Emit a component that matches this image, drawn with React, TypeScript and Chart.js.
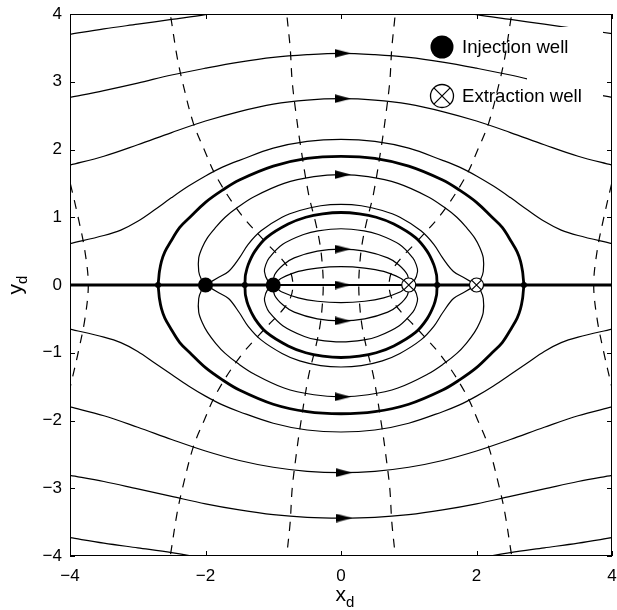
import React, { useEffect, useRef } from 'react';
import { Chart, registerables } from 'chart.js';

Chart.register(...registerables);

type P = [number, number];

// ---------- axes / text ----------
const xTickValues = [-4, -2, 0, 2, 4];
const yTickValues = [-4, -3, -2, -1, 0, 1, 2, 3, 4];
const legendLabels = ['Injection well', 'Extraction well'];
const xTitle = ['x', 'd'];
const yTitle = ['y', 'd'];

// ---------- wells and stagnation points ----------
const injectionWells: P[] = [[-2, 0], [-1, 0]];
const extractionWells: P[] = [[1, 0], [2, 0]];
const stagnationPoints: P[] = [[-2.7, 0], [-1.42, 0], [1.42, 0], [2.7, 0]];
const arrowPoints: P[] = [[0.03, 3.42], [0.03, 2.75], [0.03, 1.63], [0.03, 0.53], [0.03, 0], [0.03, -0.53], [0.03, -1.65], [0.05, -2.77], [0.05, -3.44]];

// ---------- streamlines (thin) ----------
const streamTopLeft: P[] = [[-4, 3.7], [-3.5, 3.78], [-3, 3.85], [-2.5, 3.92], [-2, 3.99], [-1.8, 4.03]];
const streamTopRight: P[] = [[1.8, 4.03], [2, 3.99], [2.5, 3.92], [3, 3.85], [3.5, 3.78], [4, 3.71]];
const streamBottomLeft: P[] = [[-4, -3.73], [-3.5, -3.81], [-3, -3.88], [-2.5, -3.95], [-2.2, -4.0], [-2.0, -4.04]];
const streamBottomRight: P[] = [[2.0, -4.04], [2.2, -4.0], [2.5, -3.95], [3, -3.88], [3.5, -3.81], [4, -3.73]];

const stream2Upper: P[] = [[-4, 2.77], [-3.5, 2.87], [-3, 2.98], [-2.5, 3.1], [-2, 3.2], [-1.5, 3.29], [-1, 3.36], [-0.5, 3.4], [0, 3.42], [0.5, 3.4], [1, 3.36], [1.5, 3.29], [2, 3.2], [2.5, 3.1], [3, 2.98], [3.5, 2.87], [4, 2.77]];
const stream2Lower: P[] = [[-4, -2.81], [-3.5, -2.9], [-3, -3.01], [-2.5, -3.12], [-2, -3.23], [-1.5, -3.32], [-1, -3.39], [-0.5, -3.43], [0, -3.44], [0.5, -3.43], [1, -3.39], [1.5, -3.32], [2, -3.23], [2.5, -3.12], [3, -3.01], [3.5, -2.9], [4, -2.81]];

const stream3Upper: P[] = [[-4, 1.77], [-3.5, 1.9], [-3, 2.07], [-2.5, 2.25], [-2, 2.42], [-1.5, 2.56], [-1, 2.67], [-0.5, 2.73], [0, 2.75], [0.5, 2.73], [1, 2.67], [1.5, 2.56], [2, 2.42], [2.5, 2.25], [3, 2.07], [3.5, 1.9], [4, 1.77]];
const stream3Lower: P[] = [[-4, -1.8], [-3.5, -1.93], [-3, -2.1], [-2.5, -2.28], [-2, -2.45], [-1.5, -2.59], [-1, -2.69], [-0.5, -2.75], [0, -2.77], [0.5, -2.75], [1, -2.69], [1.5, -2.59], [2, -2.45], [2.5, -2.28], [3, -2.1], [3.5, -1.93], [4, -1.8]];

const stream4Upper: P[] = [[-4, 0.61], [-3.5, 0.73], [-3.25, 0.81], [-3, 0.94], [-2.75, 1.11], [-2.5, 1.29], [-2.25, 1.46], [-2, 1.61], [-1.75, 1.74], [-1.5, 1.84], [-1, 2.02], [-0.5, 2.12], [0, 2.15], [0.5, 2.12], [1, 2.02], [1.5, 1.84], [1.75, 1.74], [2, 1.61], [2.25, 1.46], [2.5, 1.29], [2.75, 1.11], [3, 0.94], [3.25, 0.81], [3.5, 0.73], [4, 0.61]];
const stream4Lower: P[] = [[-4, -0.65], [-3.5, -0.77], [-3.25, -0.85], [-3, -0.98], [-2.75, -1.15], [-2.5, -1.32], [-2.25, -1.49], [-2, -1.64], [-1.75, -1.77], [-1.5, -1.87], [-1, -2.04], [-0.5, -2.14], [0, -2.17], [0.5, -2.14], [1, -2.04], [1.5, -1.87], [1.75, -1.77], [2, -1.64], [2.25, -1.49], [2.5, -1.32], [2.75, -1.15], [3, -0.98], [3.25, -0.85], [3.5, -0.77], [4, -0.65]];

const stream5Upper: P[] = [[-2, 0], [-2.06, 0.08], [-2.1, 0.2], [-2.1, 0.4], [-2.05, 0.55], [-1.97, 0.7], [-1.85, 0.85], [-1.71, 1.0], [-1.52, 1.15], [-1.29, 1.3], [-0.84, 1.5], [-0.4, 1.6], [0, 1.63], [0.4, 1.6], [0.84, 1.5], [1.29, 1.3], [1.52, 1.15], [1.71, 1.0], [1.85, 0.85], [1.97, 0.7], [2.05, 0.55], [2.1, 0.4], [2.1, 0.2], [2.06, 0.08], [2, 0]];
const stream5Lower: P[] = [[-2, 0], [-2.06, -0.08], [-2.1, -0.2], [-2.1, -0.4], [-2.05, -0.55], [-1.97, -0.7], [-1.85, -0.86], [-1.71, -1.01], [-1.52, -1.16], [-1.29, -1.31], [-0.84, -1.52], [-0.4, -1.62], [0, -1.65], [0.4, -1.62], [0.84, -1.52], [1.29, -1.31], [1.52, -1.16], [1.71, -1.01], [1.85, -0.86], [1.97, -0.7], [2.05, -0.55], [2.1, -0.4], [2.1, -0.2], [2.06, -0.08], [2, 0]];

const stream6Upper: P[] = [[-2, 0], [-1.83, 0.1], [-1.66, 0.2], [-1.5, 0.4], [-1.37, 0.6], [-1.18, 0.8], [-0.87, 1.0], [-0.61, 1.1], [-0.3, 1.17], [0, 1.19], [0.3, 1.17], [0.61, 1.1], [0.87, 1.0], [1.18, 0.8], [1.37, 0.6], [1.5, 0.4], [1.66, 0.2], [1.83, 0.1], [2, 0]];
const stream6Lower: P[] = [[-2, 0], [-1.83, -0.1], [-1.66, -0.2], [-1.5, -0.41], [-1.37, -0.61], [-1.18, -0.81], [-0.87, -1.01], [-0.61, -1.12], [-0.3, -1.19], [0, -1.21], [0.3, -1.19], [0.61, -1.12], [0.87, -1.01], [1.18, -0.81], [1.37, -0.61], [1.5, -0.41], [1.66, -0.2], [1.83, -0.1], [2, 0]];

const inner1Upper: P[] = [[-1, 0], [-1.08, 0.06], [-1.13, 0.2], [-1.11, 0.3], [-1.06, 0.4], [-0.86, 0.6], [-0.54, 0.75], [-0.34, 0.8], [0, 0.83], [0.34, 0.8], [0.54, 0.75], [0.86, 0.6], [1.06, 0.4], [1.11, 0.3], [1.13, 0.2], [1.08, 0.06], [1, 0]];
const inner1Lower: P[] = [[-1, 0], [-1.08, -0.06], [-1.13, -0.2], [-1.11, -0.3], [-1.06, -0.4], [-0.86, -0.6], [-0.54, -0.76], [-0.34, -0.81], [0, -0.84], [0.34, -0.81], [0.54, -0.76], [0.86, -0.6], [1.06, -0.4], [1.11, -0.3], [1.13, -0.2], [1.08, -0.06], [1, 0]];
const inner2Upper: P[] = [[-1, 0], [-0.98, 0.15], [-0.85, 0.3], [-0.69, 0.4], [-0.35, 0.5], [0, 0.53], [0.35, 0.5], [0.69, 0.4], [0.85, 0.3], [0.98, 0.15], [1, 0]];
const inner2Lower: P[] = [[-1, 0], [-0.98, -0.15], [-0.85, -0.3], [-0.69, -0.4], [-0.35, -0.5], [0, -0.53], [0.35, -0.5], [0.69, -0.4], [0.85, -0.3], [0.98, -0.15], [1, 0]];
const inner3Upper: P[] = [[-1, 0], [-0.94, 0.05], [-0.88, 0.1], [-0.63, 0.2], [-0.35, 0.25], [0, 0.27], [0.35, 0.25], [0.63, 0.2], [0.88, 0.1], [0.94, 0.05], [1, 0]];
const inner3Lower: P[] = [[-1, 0], [-0.94, -0.05], [-0.88, -0.1], [-0.63, -0.19], [-0.35, -0.24], [0, -0.26], [0.35, -0.24], [0.63, -0.19], [0.88, -0.1], [0.94, -0.05], [1, 0]];
const axisMiddle: P[] = [[-1, 0], [1, 0]];

// ---------- dividing streamlines (thick) ----------
const outerUpper: P[] = [[-2.7, 0], [-2.69, 0.1], [-2.68, 0.2], [-2.65, 0.35], [-2.6, 0.49], [-2.52, 0.63], [-2.38, 0.85], [-2.23, 1.0], [-2.0, 1.22], [-1.75, 1.4], [-1.5, 1.55], [-1.0, 1.755], [-0.5, 1.87], [0, 1.9], [0.5, 1.87], [1.0, 1.755], [1.5, 1.55], [1.75, 1.4], [2.0, 1.22], [2.23, 1.0], [2.38, 0.85], [2.52, 0.63], [2.6, 0.49], [2.65, 0.35], [2.68, 0.2], [2.69, 0.1], [2.7, 0]];
const outerLower: P[] = [[-2.7, 0], [-2.69, -0.1], [-2.68, -0.2], [-2.65, -0.35], [-2.6, -0.49], [-2.52, -0.63], [-2.38, -0.85], [-2.23, -1.0], [-2.0, -1.22], [-1.75, -1.4], [-1.5, -1.55], [-1.0, -1.76], [-0.5, -1.87], [0, -1.9], [0.5, -1.87], [1.0, -1.76], [1.5, -1.55], [1.75, -1.4], [2.0, -1.22], [2.23, -1.0], [2.38, -0.85], [2.52, -0.63], [2.6, -0.49], [2.65, -0.35], [2.68, -0.2], [2.69, -0.1], [2.7, 0]];
const innerUpper: P[] = [[-1.42, 0], [-1.415, 0.08], [-1.41, 0.15], [-1.37, 0.3], [-1.27, 0.5], [-1.1, 0.7], [-0.78, 0.9], [-0.52, 1.0], [-0.27, 1.05], [0, 1.07], [0.27, 1.05], [0.52, 1.0], [0.78, 0.9], [1.1, 0.7], [1.27, 0.5], [1.37, 0.3], [1.41, 0.15], [1.415, 0.08], [1.42, 0]];
const innerLower: P[] = [[-1.42, 0], [-1.415, -0.08], [-1.41, -0.15], [-1.37, -0.3], [-1.27, -0.5], [-1.1, -0.7], [-0.78, -0.9], [-0.52, -1.0], [-0.27, -1.05], [0, -1.07], [0.27, -1.05], [0.52, -1.0], [0.78, -0.9], [1.1, -0.7], [1.27, -0.5], [1.37, -0.3], [1.41, -0.15], [1.415, -0.08], [1.42, 0]];
const axisLeft: P[] = [[-4, 0], [-1, 0]];
const axisRight: P[] = [[1, 0], [4, 0]];

// ---------- equipotentials (dashed) ----------
const dashEdgeLeft: P[] = [[-4.05, 1.74], [-4, 1.52], [-3.88, 1.0], [-3.78, 0.5], [-3.73, 0], [-3.78, -0.5], [-3.88, -1.0], [-4, -1.52], [-4.05, -1.74]];
const dashOuterLeft: P[] = [[-2.56, 4.2], [-2.52, 4], [-2.42, 3.37], [-2.34, 3.0], [-2.18, 2.39], [-2.02, 2.0], [-1.84, 1.6], [-1.49, 1.06], [-1.1, 0.62], [-0.88, 0.39], [-0.75, 0.2], [-0.71, 0], [-0.75, -0.2], [-0.88, -0.39], [-1.1, -0.62], [-1.49, -1.06], [-1.84, -1.6], [-2.02, -2.0], [-2.18, -2.39], [-2.34, -3.0], [-2.42, -3.37], [-2.52, -4], [-2.56, -4.2]];
const dashInnerLeft: P[] = [[-0.81, 4.2], [-0.8, 4], [-0.75, 3.5], [-0.72, 3.0], [-0.66, 2.5], [-0.61, 2.14], [-0.48, 1.35], [-0.37, 0.9], [-0.31, 0.6], [-0.276, 0.3], [-0.262, 0], [-0.276, -0.3], [-0.31, -0.6], [-0.37, -0.9], [-0.48, -1.35], [-0.61, -2.14], [-0.66, -2.5], [-0.72, -3.0], [-0.75, -3.5], [-0.8, -4], [-0.81, -4.2]];
const dashInnerRight: P[] = [[0.81, 4.2], [0.8, 4], [0.75, 3.5], [0.72, 3.0], [0.66, 2.5], [0.61, 2.14], [0.48, 1.35], [0.37, 0.9], [0.31, 0.6], [0.276, 0.3], [0.262, 0], [0.276, -0.3], [0.31, -0.6], [0.37, -0.9], [0.48, -1.35], [0.61, -2.14], [0.66, -2.5], [0.72, -3.0], [0.75, -3.5], [0.8, -4], [0.81, -4.2]];
const dashOuterRight: P[] = [[2.56, 4.2], [2.52, 4], [2.42, 3.37], [2.34, 3.0], [2.18, 2.39], [2.02, 2.0], [1.84, 1.6], [1.49, 1.06], [1.1, 0.62], [0.88, 0.39], [0.75, 0.2], [0.71, 0], [0.75, -0.2], [0.88, -0.39], [1.1, -0.62], [1.49, -1.06], [1.84, -1.6], [2.02, -2.0], [2.18, -2.39], [2.34, -3.0], [2.42, -3.37], [2.52, -4], [2.56, -4.2]];
const dashEdgeRight: P[] = [[4.05, 1.74], [4, 1.52], [3.88, 1.0], [3.78, 0.5], [3.73, 0], [3.78, -0.5], [3.88, -1.0], [4, -1.52], [4.05, -1.74]];

const thinLines = [streamTopLeft, streamTopRight, streamBottomLeft, streamBottomRight, stream2Upper, stream2Lower, stream3Upper, stream3Lower, stream4Upper, stream4Lower, stream5Upper, stream5Lower, stream6Upper, stream6Lower, inner1Upper, inner1Lower, inner2Upper, inner2Lower, inner3Upper, inner3Lower];
const thickLines = [outerUpper, outerLower, innerUpper, innerLower, axisLeft, axisRight];
const dashedLines = [dashEdgeLeft, dashOuterLeft, dashInnerLeft, dashInnerRight, dashOuterRight, dashEdgeRight];

const FONT = '"Liberation Sans", Arial, Helvetica, sans-serif';
const pts = (a: P[]) => a.map(([x, y]) => ({ x, y }));
const minus = (v: number) => String(v).replace('-', '\u2212');

function makeArrow(): HTMLCanvasElement {
  const c = document.createElement('canvas');
  c.width = 16;
  c.height = 9;
  const g = c.getContext('2d')!;
  g.fillStyle = '#000';
  g.beginPath();
  g.moveTo(0, 0.3);
  g.lineTo(16, 4.5);
  g.lineTo(0, 8.7);
  g.closePath();
  g.fill();
  return c;
}

const framePlugin = {
  id: 'frameAndLegend',
  afterDatasetsDraw(chart: any) {
    const { ctx, chartArea } = chart;
    const { right, top } = chartArea;
    ctx.save();
    ctx.fillStyle = '#fff';
    ctx.fillRect(right - 85, top + 13, 76, 85);
    const mx = right - 170;
    const rows = [top + 33, top + 82];
    const r = 11.5;
    ctx.beginPath();
    ctx.arc(mx, rows[0], r, 0, Math.PI * 2);
    ctx.fillStyle = '#000';
    ctx.fill();
    ctx.beginPath();
    ctx.arc(mx, rows[1], r, 0, Math.PI * 2);
    ctx.fillStyle = '#fff';
    ctx.fill();
    ctx.lineWidth = 1.3;
    ctx.strokeStyle = '#000';
    ctx.stroke();
    const d = r * Math.SQRT1_2;
    ctx.beginPath();
    ctx.moveTo(mx - d, rows[1] - d);
    ctx.lineTo(mx + d, rows[1] + d);
    ctx.moveTo(mx + d, rows[1] - d);
    ctx.lineTo(mx - d, rows[1] + d);
    ctx.stroke();
    ctx.fillStyle = '#000';
    ctx.font = `18.6px ${FONT}`;
    ctx.textBaseline = 'middle';
    ctx.textAlign = 'left';
    legendLabels.forEach((t, i) => ctx.fillText(t, mx + 20, rows[i] + 1));
    ctx.restore();
  },
  afterDraw(chart: any) {
    const { ctx, chartArea, scales } = chart;
    const { left, right, top, bottom } = chartArea;
    ctx.save();
    ctx.strokeStyle = '#000';
    ctx.lineWidth = 1;
    ctx.strokeRect(left + 0.5, top + 0.5, right - left - 1, bottom - top - 1);
    const tl = 5;
    ctx.beginPath();
    xTickValues.forEach((v) => {
      const px = Math.round(scales.x.getPixelForValue(v)) + 0.5;
      ctx.moveTo(px, bottom);
      ctx.lineTo(px, bottom - tl);
      ctx.moveTo(px, top);
      ctx.lineTo(px, top + tl);
    });
    yTickValues.forEach((v) => {
      const py = Math.round(scales.y.getPixelForValue(v)) + 0.5;
      ctx.moveTo(left, py);
      ctx.lineTo(left + tl, py);
      ctx.moveTo(right, py);
      ctx.lineTo(right - tl, py);
    });
    ctx.stroke();

    // axis titles with subscripts
    ctx.fillStyle = '#000';
    ctx.textBaseline = 'alphabetic';
    ctx.textAlign = 'left';
    ctx.font = `21px ${FONT}`;
    const wx = ctx.measureText(xTitle[0]).width;
    ctx.font = `15px ${FONT}`;
    const wd = ctx.measureText(xTitle[1]).width;
    const cx = (left + right) / 2 + 4;
    const sx = cx - (wx + wd) / 2;
    ctx.font = `21px ${FONT}`;
    ctx.fillText(xTitle[0], sx, 601);
    ctx.font = `15px ${FONT}`;
    ctx.fillText(xTitle[1], sx + wx, 607);

    ctx.font = `21px ${FONT}`;
    const wy = ctx.measureText(yTitle[0]).width;
    ctx.font = `15px ${FONT}`;
    const wd2 = ctx.measureText(yTitle[1]).width;
    ctx.translate(22, (top + bottom) / 2);
    ctx.rotate(-Math.PI / 2);
    const sy = -(wy + wd2) / 2;
    ctx.font = `21px ${FONT}`;
    ctx.fillText(yTitle[0], sy, 0);
    ctx.font = `15px ${FONT}`;
    ctx.fillText(yTitle[1], sy + wy, 5);
    ctx.restore();
  },
};

export default function App() {
  const ref = useRef<HTMLCanvasElement | null>(null);
  useEffect(() => {
    if (!ref.current) return;
    const arrow = makeArrow();
    const lineSet = (data: P[], width: number, dash: number[], order: number) => ({
      data: pts(data),
      showLine: true,
      borderColor: '#000',
      backgroundColor: '#000',
      borderWidth: width,
      borderDash: dash,
      pointRadius: 0,
      pointHoverRadius: 0,
      tension: 0.35,
      clip: 0,
      order,
    });
    const datasets: any[] = [
      ...dashedLines.map((d) => lineSet(d, 1.2, [9, 8], 12)),
      ...thinLines.map((d) => lineSet(d, 1.2, [], 10)),
      ...thickLines.map((d) => lineSet(d, 2.8, [], 8)),
      lineSet(axisMiddle, 1.8, [], 9),
      {
        data: pts(arrowPoints),
        pointStyle: arrow,
        pointRadius: 5,
        showLine: false,
        order: 4,
      },
      {
        data: pts(stagnationPoints),
        pointStyle: 'circle',
        pointRadius: 3,
        pointBackgroundColor: '#000',
        pointBorderColor: '#000',
        pointBorderWidth: 0,
        showLine: false,
        order: 3,
      },
      {
        data: pts(extractionWells),
        pointStyle: 'circle',
        pointRadius: 7,
        pointBackgroundColor: '#fff',
        pointBorderColor: '#000',
        pointBorderWidth: 1.2,
        showLine: false,
        order: 2,
      },
      {
        data: pts(extractionWells),
        pointStyle: 'crossRot',
        pointRadius: 7,
        pointBorderColor: '#000',
        pointBorderWidth: 1.2,
        showLine: false,
        order: 1,
      },
      {
        data: pts(injectionWells),
        pointStyle: 'circle',
        pointRadius: 7.5,
        pointBackgroundColor: '#000',
        pointBorderColor: '#000',
        pointBorderWidth: 0,
        showLine: false,
        order: 0,
      },
    ];
    const chart = new Chart(ref.current, {
      type: 'scatter',
      data: { datasets },
      options: {
        responsive: false,
        maintainAspectRatio: false,
        animation: false,
        events: [],
        layout: { autoPadding: false, padding: { top: 14, right: 5, left: 0, bottom: 0 } },
        plugins: { legend: { display: false }, tooltip: { enabled: false } },
        scales: {
          x: {
            type: 'linear',
            min: -4,
            max: 4,
            afterFit: (s: any) => { s.height = 54; s.paddingLeft = 0; s.paddingRight = 0; },
            afterBuildTicks: (s: any) => { s.ticks = xTickValues.map((v) => ({ value: v })); },
            grid: { display: false, drawTicks: false },
            border: { display: false },
            ticks: { padding: 10, color: '#000', font: { family: FONT, size: 17 }, maxRotation: 0, autoSkip: false, callback: (v: any) => minus(Number(v)) },
          },
          y: {
            type: 'linear',
            min: -4,
            max: 4,
            afterFit: (s: any) => { s.width = 70; s.paddingTop = 0; s.paddingBottom = 0; },
            afterBuildTicks: (s: any) => { s.ticks = yTickValues.map((v) => ({ value: v })); },
            grid: { display: false, drawTicks: false },
            border: { display: false },
            ticks: { padding: 8, color: '#000', font: { family: FONT, size: 17 }, autoSkip: false, callback: (v: any) => minus(Number(v)) },
          },
        },
      },
      plugins: [framePlugin],
    } as any);
    return () => chart.destroy();
  }, []);
  return (
    <div style={{ position: 'absolute', left: 0, top: 0, width: 617, height: 610, background: '#fff' }}>
      <canvas ref={ref} width={617} height={610} style={{ display: 'block' }} />
    </div>
  );
}
